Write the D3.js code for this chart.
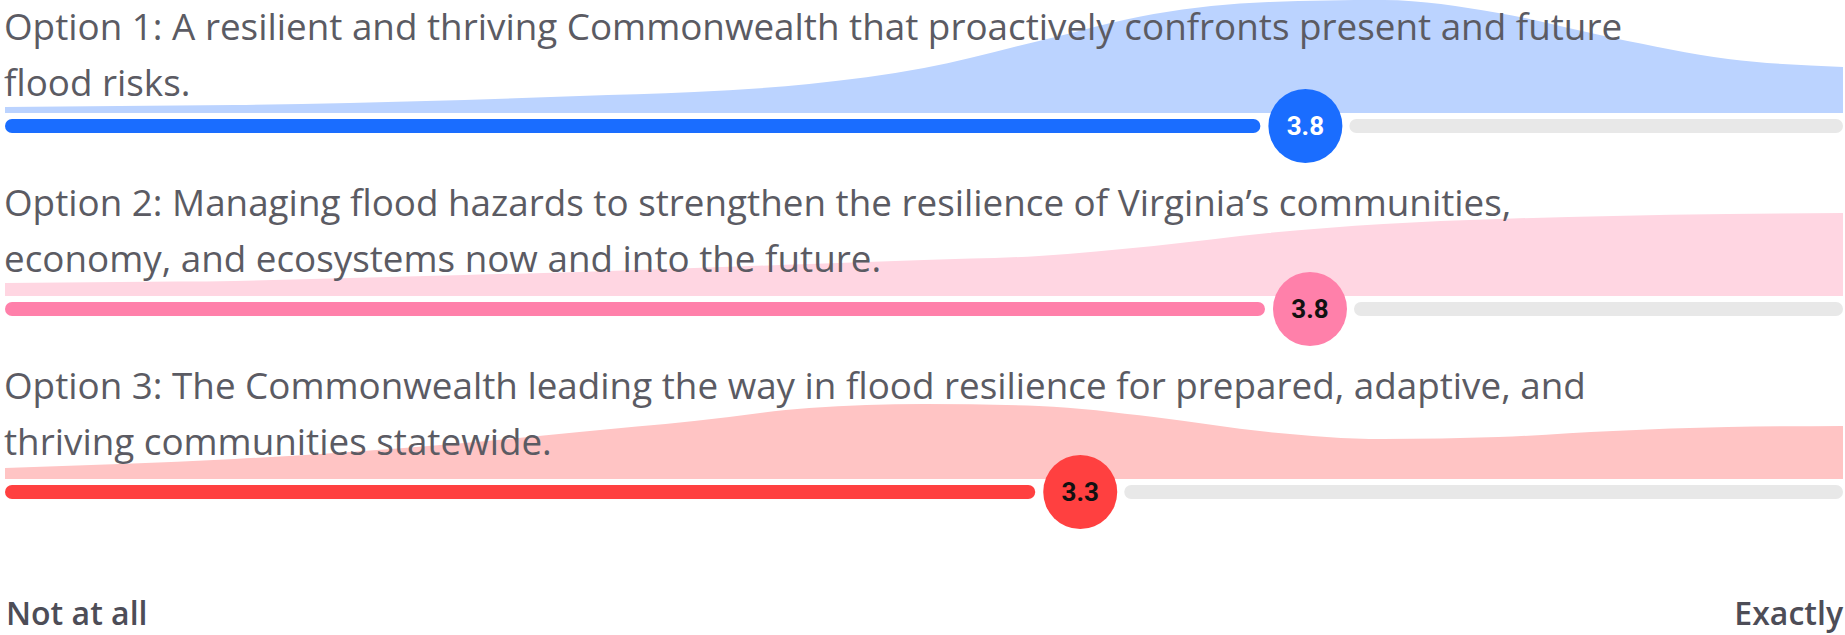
<!DOCTYPE html>
<html>
<head>
<meta charset="utf-8">
<script src="https://cdn.jsdelivr.net/npm/d3@7"></script>
<style>
  body { margin: 0; background: #fff; }
  svg { display: block; }
  .title { font-family: "Open Sans", sans-serif; font-size: 36.8px; fill: #5b5b63; }
  .score { font-family: Roboto, sans-serif; font-size: 26px; font-weight: 700; text-anchor: middle; }
  .end-label { font-family: "Open Sans", sans-serif; font-size: 32px; font-weight: 600; fill: #4d4d57; }
</style>
</head>
<body>
<svg id="chart" width="1845" height="635"></svg>
<script>
// option statements, already split the way the chart wraps them
var titleLines = [
  ["Option 1: A resilient and thriving Commonwealth that proactively confronts present and future", "flood risks."],
  ["Option 2: Managing flood hazards to strengthen the resilience of Virginia\u2019s communities,", "economy, and ecosystems now and into the future."],
  ["Option 3: The Commonwealth leading the way in flood resilience for prepared, adaptive, and", "thriving communities statewide."]
];
var scores = [3.83, 3.84, 3.34];
var scaleLabels = ["Not at all", "Exactly"];

// answer distribution, sampled along the 1..5 scale
var densityX = [1, 1.25, 1.5, 1.75, 2, 2.25, 2.5, 2.75, 3, 3.25, 3.5, 3.75, 4, 4.25, 4.5, 4.75, 5];
var density1 = [6, 7, 8, 10, 13, 17, 21, 29, 45, 72, 99, 111, 113, 100, 75, 54, 46];
var density2 = [13, 14, 15, 18, 21, 24, 28, 32, 36, 40, 50, 63, 72, 77, 80, 82, 83];
var density3 = [11, 15, 20, 27, 36, 47, 58, 71, 75, 73, 62, 47, 40, 42, 48, 52, 53];

var barColors = ["#1a6dff", "#ff80aa", "#ff4040"];
var areaColors = ["#bbd3ff", "#ffd6e2", "#ffc4c4"];
var scoreText = ["#ffffff", "#111111", "#111111"];

var svg = d3.select("#chart");
var W = 1845, H = 635;
var left = 5, right = 1843;
var firstTrack = 126, rowStep = 183;
var barH = 14, radius = 37;

var x = d3.scaleLinear().domain([1, 5]).range([left, right]);
var allDens = density1.concat(density2, density3);
var h = d3.scaleLinear().domain([0, d3.max(allDens)]).range([0, 113]);
var fmt = d3.format(".1f");

var densities = [density1, density2, density3];

densities.forEach(function(dens, i) {
  var ty = firstTrack + i * rowStep;
  var base = ty - 13;
  var g = svg.append("g");

  var pts = densityX.map(function(v, k) { return [v, dens[k]]; });
  var area = d3.area()
    .x(function(d) { return x(d[0]); })
    .y0(base)
    .y1(function(d) { return base - h(d[1]); })
    .curve(d3.curveMonotoneX);

  g.append("path")
    .attr("d", area(pts))
    .attr("fill", areaColors[i]);

  // keep the first line inside the top edge
  var titleY = Math.max(ty - 93, 40);
  titleLines[i].forEach(function(line, k) {
    g.append("text")
      .attr("class", "title")
      .attr("x", 4)
      .attr("y", titleY + k * 56)
      .text(line);
  });

  var cx = x(scores[i]);
  // grey rest of the track
  g.append("rect")
    .attr("x", cx + radius + 7)
    .attr("y", ty - barH / 2)
    .attr("width", right - (cx + radius + 7))
    .attr("height", barH)
    .attr("rx", barH / 2)
    .attr("fill", "#e8e8e8");
  // coloured part
  g.append("rect")
    .attr("x", left)
    .attr("y", ty - barH / 2)
    .attr("width", cx - radius - 8 - left)
    .attr("height", barH)
    .attr("rx", barH / 2)
    .attr("fill", barColors[i]);

  g.append("circle")
    .attr("cx", cx)
    .attr("cy", ty)
    .attr("r", radius)
    .attr("fill", barColors[i]);

  g.append("text")
    .attr("class", "score")
    .attr("x", cx)
    .attr("y", ty)
    .attr("dy", "0.36em")
    .attr("fill", scoreText[i])
    .text(fmt(scores[i]));
});

svg.append("text")
  .attr("class", "end-label")
  .attr("x", 6)
  .attr("y", H - 10)
  .text(scaleLabels[0]);

svg.append("text")
  .attr("class", "end-label")
  .attr("x", W - 2)
  .attr("y", H - 10)
  .attr("text-anchor", "end")
  .text(scaleLabels[1]);
</script>
</body>
</html>
